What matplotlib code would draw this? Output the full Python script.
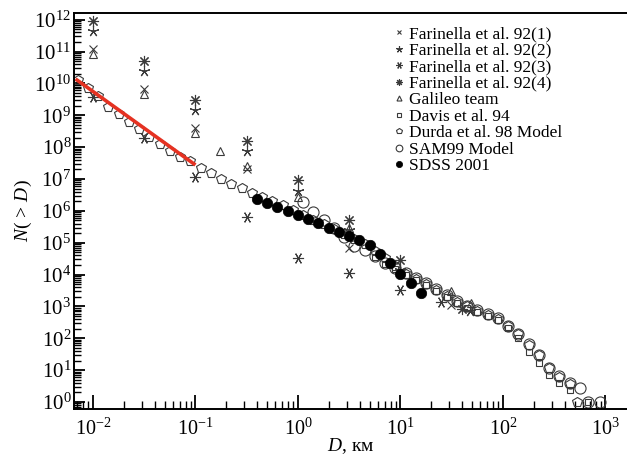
import matplotlib
matplotlib.use("Agg")
import matplotlib.pyplot as plt
import numpy as np

plt.rcParams['font.family'] = ['Liberation Serif', 'DejaVu Serif']
plt.rcParams['mathtext.fontset'] = 'custom'
plt.rcParams['mathtext.rm'] = 'Liberation Serif'
plt.rcParams['mathtext.it'] = 'Liberation Serif:italic'

# ---- data (log10 D [km], log10 N(>D)) ----
f1_logD = [-2.0, -1.5, -1.0, -0.5, 0.5, 1.49]
f1_logN = [11.08, 9.82, 8.59, 7.32, 4.83, 3.05]

f2_logD = [-2.0, -1.5, -1.0, -0.5, 0.0, 0.5, 1.0, 1.68]
f2_logN = [11.66, 10.39, 9.17, 7.89, 6.62, 5.40, 4.15, 2.87]

f3_logD = [-2.0, -1.5, -1.0, -0.5, 0.0, 0.5, 1.0, 1.40]
f3_logN = [9.58, 8.30, 7.07, 5.80, 4.53, 4.05, 3.52, 3.15]

f4_logD = [-2.0, -1.5, -1.0, -0.5, 0.0, 0.5, 1.0, 1.60]
f4_logN = [11.96, 10.70, 9.48, 8.20, 6.97, 5.71, 4.46, 2.92]

gal_logD = [-2.0, -1.5, -1.0, -0.76, -0.5, 0.0, 0.5, 1.49, 1.69]
gal_logN = [10.93, 9.67, 8.44, 7.89, 7.42, 6.45, 5.46, 3.48, 3.12]

davis_logD = [0.75, 0.85, 0.95, 1.05, 1.15, 1.25, 1.35, 1.45, 1.55, 1.65, 1.75,
              1.85, 1.95, 2.05, 2.15, 2.25, 2.35, 2.45, 2.55, 2.65, 2.83]
davis_logN = [4.55, 4.33, 4.17, 3.99, 3.83, 3.68, 3.49, 3.31, 3.12, 2.96, 2.84,
              2.71, 2.57, 2.33, 2.02, 1.58, 1.21, 0.85, 0.59, 0.38, 0.0]

durda_logD = [-2.15, -2.05, -1.95, -1.85, -1.75, -1.65, -1.55, -1.45, -1.35, -1.25,
              -1.15, -1.05, -0.95, -0.85, -0.75, -0.65, -0.55, -0.45, -0.35, -0.25,
              -0.15, -0.05, 0.05, 0.15, 0.25, 0.35, 0.45, 0.55, 0.65, 0.75,
              0.85, 0.95, 1.05, 1.15, 1.25, 1.35, 1.45, 1.55, 1.65, 1.75,
              1.85, 1.95, 2.05, 2.15, 2.25, 2.35, 2.45, 2.55, 2.65, 2.72]
durda_logN = [10.11, 9.85, 9.59, 9.27, 9.03, 8.80, 8.56, 8.33, 8.10, 7.89,
              7.70, 7.55, 7.34, 7.18, 7.01, 6.85, 6.72, 6.56, 6.43, 6.30,
              6.17, 6.02, 5.88, 5.72, 5.58, 5.43, 5.28, 5.12, 4.95, 4.75,
              4.52, 4.28, 4.03, 3.85, 3.70, 3.52, 3.33, 3.15, 3.00, 2.87,
              2.74, 2.60, 2.38, 2.12, 1.80, 1.46, 1.08, 0.78, 0.55, 0.0]

sam_logD = [0.05, 0.15, 0.25, 0.35, 0.45, 0.55, 0.65, 0.75, 0.85, 0.95,
            1.05, 1.15, 1.25, 1.35, 1.45, 1.55, 1.65, 1.75, 1.85, 1.95,
            2.05, 2.15, 2.25, 2.35, 2.45, 2.55, 2.65, 2.75, 2.83, 2.95]
sam_logN = [6.29, 5.97, 5.72, 5.45, 5.17, 4.90, 4.77, 4.58, 4.37, 4.22,
            4.04, 3.88, 3.73, 3.54, 3.36, 3.17, 3.01, 2.89, 2.76, 2.63,
            2.40, 2.14, 1.81, 1.48, 1.06, 0.82, 0.61, 0.43, 0.0, 0.0]

sdss_logD = [-0.4, -0.3, -0.2, -0.1, 0.0, 0.1, 0.2, 0.3, 0.4, 0.5,
             0.6, 0.7, 0.8, 0.9, 1.0, 1.1, 1.2]
sdss_logN = [6.36, 6.24, 6.11, 6.00, 5.88, 5.74, 5.61, 5.47, 5.35, 5.21,
             5.09, 4.93, 4.65, 4.35, 4.03, 3.73, 3.41]

fit_logD = [-2.17, -1.0]
fit_logN = [10.14, 7.44]

x_decades = [-2, -1, 0, 1, 2, 3]
y_decades = list(range(0, 13))

labels = ["Farinella et al. 92(1)", "Farinella et al. 92(2)", "Farinella et al. 92(3)",
          "Farinella et al. 92(4)", "Galileo team", "Davis et al. 94",
          "Durda et al. 98 Model", "SAM99 Model", "SDSS 2001"]

def p(a):
    return 10.0 ** np.asarray(a, dtype=float)

fig = plt.figure(figsize=(6.27, 4.57), dpi=100)
ax = fig.add_axes([0.118, 0.105, 0.882, 0.8665])

ec = '#3a3a3a'
handles = []
handles.append(ax.plot(p(f1_logD), p(f1_logN), ls='none', marker='x', ms=6, mew=0.8, color=ec, label=labels[0])[0])
handles.append(ax.plot(p(f2_logD), p(f2_logN), ls='none', marker=(5, 2, 0), ms=8, mew=0.8, color=ec, label=labels[1])[0])
handles.append(ax.plot(p(f3_logD), p(f3_logN), ls='none', marker=(6, 2, 30), ms=8, mew=0.8, color=ec, label=labels[2])[0])
handles.append(ax.plot(p(f4_logD), p(f4_logN), ls='none', marker=(8, 2, 0), ms=8, mew=0.8, color=ec, label=labels[3])[0])
handles.append(ax.plot(p(gal_logD), p(gal_logN), ls='none', marker='^', ms=6, mew=0.8, mfc='none', mec=ec, label=labels[4])[0])
handles.append(ax.plot(p(davis_logD), p(davis_logN), ls='none', marker='s', ms=5, mew=0.8, mfc='none', mec=ec, label=labels[5])[0])
handles.append(ax.plot(p(durda_logD), p(durda_logN), ls='none', marker='p', ms=7, mew=0.8, mfc='none', mec=ec, label=labels[6])[0])
handles.append(ax.plot(p(sam_logD), p(sam_logN), ls='none', marker='o', ms=8, mew=0.8, mfc='none', mec=ec, label=labels[7])[0])
handles.append(ax.plot(p(sdss_logD), p(sdss_logN), ls='none', marker='o', ms=7.5, mew=0.5, color='black', label=labels[8])[0])
ax.plot(p(fit_logD), p(fit_logN), color='#e53222', lw=2.6, solid_capstyle='butt')

ax.set_xscale('log')
ax.set_yscale('log')
xlo, xhi = 10 ** -2.185, 10 ** 3.21
ylo, yhi = 10 ** -0.22, 10 ** 12.21
ax.set_xlim(xlo, xhi)
ax.set_ylim(ylo, yhi)

ax.spines['right'].set_visible(False)
for s in ['left', 'bottom', 'top']:
    ax.spines[s].set_linewidth(1.4)

# fixed in-range ticks only
ax.set_xticks(p(x_decades))
ax.set_xticklabels([r'$10^{%d}$' % k for k in x_decades])
ax.set_yticks(p(y_decades))
ax.set_yticklabels([r'$10^{%d}$' % k for k in y_decades])
xminor = [m * 10.0 ** k for k in range(-3, 4) for m in range(2, 10) if xlo < m * 10.0 ** k < xhi]
yminor = [m * 10.0 ** k for k in range(-1, 13) for m in range(2, 10) if ylo < m * 10.0 ** k < yhi]
ax.set_xticks(xminor, minor=True)
ax.set_yticks(yminor, minor=True)
ax.set_xticklabels([], minor=True)
ax.set_yticklabels([], minor=True)

ax.tick_params(axis='both', which='both', direction='in', top=False, right=False)
ax.tick_params(axis='x', which='major', length=10, width=1.3, labelsize=14.5, pad=7)
ax.tick_params(axis='x', which='minor', length=6, width=1.0)
ax.tick_params(axis='y', which='major', length=8, width=1.3, labelsize=15, pad=2)
ax.tick_params(axis='y', which='minor', length=5, width=1.0)

ax.set_xlabel(r'$\it{D}$, км', fontsize=14, labelpad=-3)
ax.set_ylabel(r'$N(\,>\,D)$', fontsize=14, labelpad=0)

leg = ax.legend(handles=handles, loc='upper left', bbox_to_anchor=(0.556, 0.998),
                frameon=False, fontsize=12.5, handlelength=0.6, handletextpad=0.3,
                labelspacing=0.02, borderpad=0.2, markerscale=0.6)

fig.savefig('out.png', dpi=100)
